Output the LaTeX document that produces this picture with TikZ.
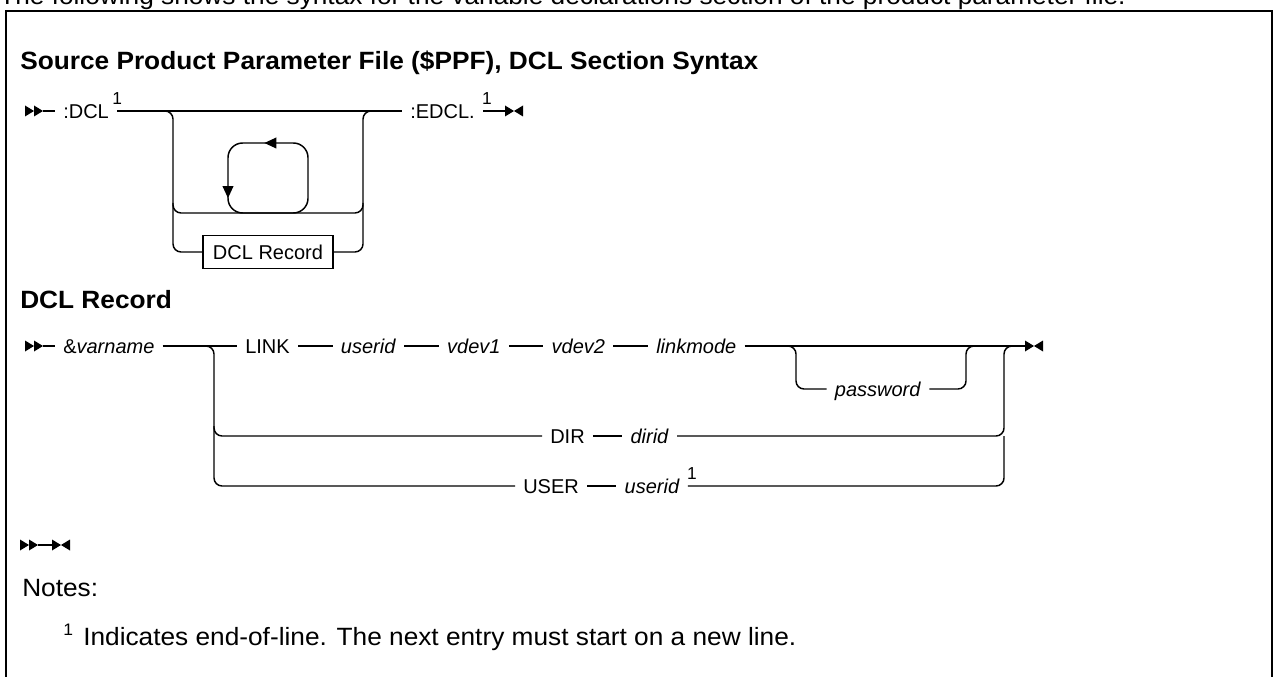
\documentclass[tikz,border=0pt]{standalone}
\usepackage{fontspec}
\setmainfont{Liberation Sans}
\newfontfamily\widesans[FakeStretch=1.05]{Liberation Sans}
\usetikzlibrary{
  arrows.meta,          % Triangle tips on the loop
  decorations.markings, % tips placed along the loop
  positioning           % chains of terms
}

\tikzset{
  rail/.style={line width=1.1pt},
  term/.style={font=\fontsize{15}{18}\selectfont, inner xsep=6pt, inner ysep=0pt,
    text height=10.7pt, text depth=0pt, anchor=west},
  recbox/.style={term, draw, line width=1.1pt, anchor=center,
    minimum width=97.5pt, minimum height=24.75pt},
  eol/.style={font=\fontsize{13}{15}\selectfont, inner sep=0pt, anchor=south},
  prose/.style={font=\widesans\fontsize{18.75}{22}\selectfont, inner sep=0pt, anchor=base west},
  heading/.style={prose, font=\widesans\fontsize{18.75}{22}\selectfont\bfseries},
  loopjoin/.style={rail, rounded corners=11pt, postaction={decorate}, decoration={markings,
      mark=at position 0.46 with {\arrow{Triangle[length=9pt, width=8pt]}},
      mark=at position 0.77 with {\arrow{Triangle[length=9pt, width=8pt]}}}},
  pics/railin/.style={code={
    \fill (0,-5.5) -- (9,0) -- (0,5.5) -- cycle;
    \fill (9,-5.5) -- (18,0) -- (9,5.5) -- cycle;}},
  pics/railout/.style={code={
    \fill (-9,-5.5) -- (0,0) -- (-9,5.5) -- cycle;
    \fill (9,-5.5) -- (0,0) -- (9,5.5) -- cycle;}},
}

\begin{document}
\begin{tikzpicture}[x=0.75pt, y=-0.75pt]
  \useasboundingbox (0,0) rectangle (1274,677);
  \clip (0,0) rectangle (1274,677);

  % =============== frame and lead-in text ===============
  \node[prose] (intro) at (-1,5) {The following shows the syntax for the variable declarations section of the product parameter file.};
  \draw[line width=1.9pt] (6,690) -- (6,11) -- (1272,11) -- (1272,690);

  % =============== DCL section ===============
  \node[heading] (title) at (20,70) {Source Product Parameter File (\$PPF), DCL Section Syntax};

  \coordinate (in1) at (43,111);
  \pic at (25,111) {railin};
  \node[term] (dcl) at (55,111) {:DCL};
  \node[term] (edcl) at (402,111) {:EDCL.};
  \node[eol] (n1) at ([shift={(0,-6)}]dcl.east) {1};
  \node[eol] (n2) at ([shift={(4,-6)}]edcl.east) {1};
  \coordinate (out1) at (505,111);
  \pic at (514,111) {railout};
  \draw[rail] (in1) -- (dcl);
  \draw[rail] (dcl) -- (edcl);
  \draw[rail] (edcl) -- (out1);

  % repeat group: empty loop or DCL Record
  \coordinate (la) at (173,111);
  \coordinate (lb) at (173,213);
  \coordinate (lc) at (173,252);
  \coordinate (ra) at (363,111);
  \coordinate (rb) at (363,213);
  \coordinate (rc) at (363,252);
  \node[recbox] (rec) at (268,252) {DCL Record};
  \draw[rail, rounded corners=6pt] (la) ++(-12,0) -- (la) -- (lc) -- (rec);
  \draw[rail, rounded corners=6pt] (rec) -- (rc) -- (ra) -- ++(12,0);
  \draw[rail, rounded corners=6pt] (lb) ++(0,-10) -- (lb) -- (rb) -- ++(0,-10);
  \draw[loopjoin] (268,213) -- (308,213) -- (308,143) -- (228,143) -- (228,213) -- cycle;

  % =============== DCL Record ===============
  \node[heading] (rectitle) at (20,308) {DCL Record};

  \coordinate (in2) at (43,346);
  \pic at (25,346) {railin};
  \node[term] (var) at (55,346) {\&\textit{varname}};
  \node[term] (link) at (237,346) {LINK};
  \node[term, right=26pt of link] (uid) {\textit{userid}};
  \node[term, right=26pt of uid] (vd1) {\textit{vdev1}};
  \node[term, right=26pt of vd1] (vd2) {\textit{vdev2}};
  \node[term, right=26pt of vd2] (mode) {\textit{linkmode}};
  \coordinate (out2) at (1025,346);
  \pic at (1034,346) {railout};
  \draw[rail] (in2) -- (var);
  \draw[rail] (var) -- (link) -- (uid) -- (vd1) -- (vd2) -- (mode) -- (out2);

  % optional password
  \coordinate (pa) at (796,346);
  \coordinate (pb) at (796,389);
  \coordinate (pc) at (966,389);
  \coordinate (pd) at (966,346);
  \node[term, anchor=center] (pw) at (878,389) {\textit{password}};
  \draw[rail, rounded corners=6pt] (pa) ++(-12,0) -- (pa) -- (pb) -- (pw);
  \draw[rail, rounded corners=6pt] (pw) -- (pc) -- (pd) -- ++(12,0);

  % DIR and USER branches
  \node[term] (dir) at (542,436) {DIR};
  \node[term, right=22pt of dir] (dirid) {\textit{dirid}};
  \node[term] (user) at (515,486) {USER};
  \node[term, right=22pt of user] (uid2) {\textit{userid}};
  \node[eol] (n3) at ([shift={(4,-6)}]uid2.east) {1};
  \coordinate (ba) at (214,346);
  \coordinate (bb) at (214,436);
  \coordinate (bc) at (214,486);
  \coordinate (ca) at (1004,346);
  \coordinate (cb) at (1004,436);
  \coordinate (cc) at (1004,486);
  \draw[rail, rounded corners=6pt] (ba) ++(-12,0) -- (ba) -- (bc) -- (user);
  \draw[rail, rounded corners=6pt] (bb) ++(0,-10) -- (bb) -- (dir);
  \draw[rail] (dir) -- (dirid);
  \draw[rail] (user) -- (uid2);
  \draw[rail, rounded corners=6pt] (dirid) -- (cb) -- (ca) -- ++(12,0);
  \draw[rail, rounded corners=6pt] (uid2) -- (cc) -- (cb);

  % =============== empty record and notes ===============
  \coordinate (in3) at (38,545);
  \coordinate (out3) at (52,545);
  \pic at (20,545) {railin};
  \pic at (61,545) {railout};
  \draw[rail] (in3) -- (out3);

  \node[prose] (notes) at (22,596) {Notes:};
  \node[prose, font=\widesans\fontsize{12.5}{14}\selectfont] (fn) at (63,635) {1};
  \node[prose] (fntext) at (83,645) {Indicates end-of-line. The next entry must start on a new line.};
\end{tikzpicture}
\end{document}
